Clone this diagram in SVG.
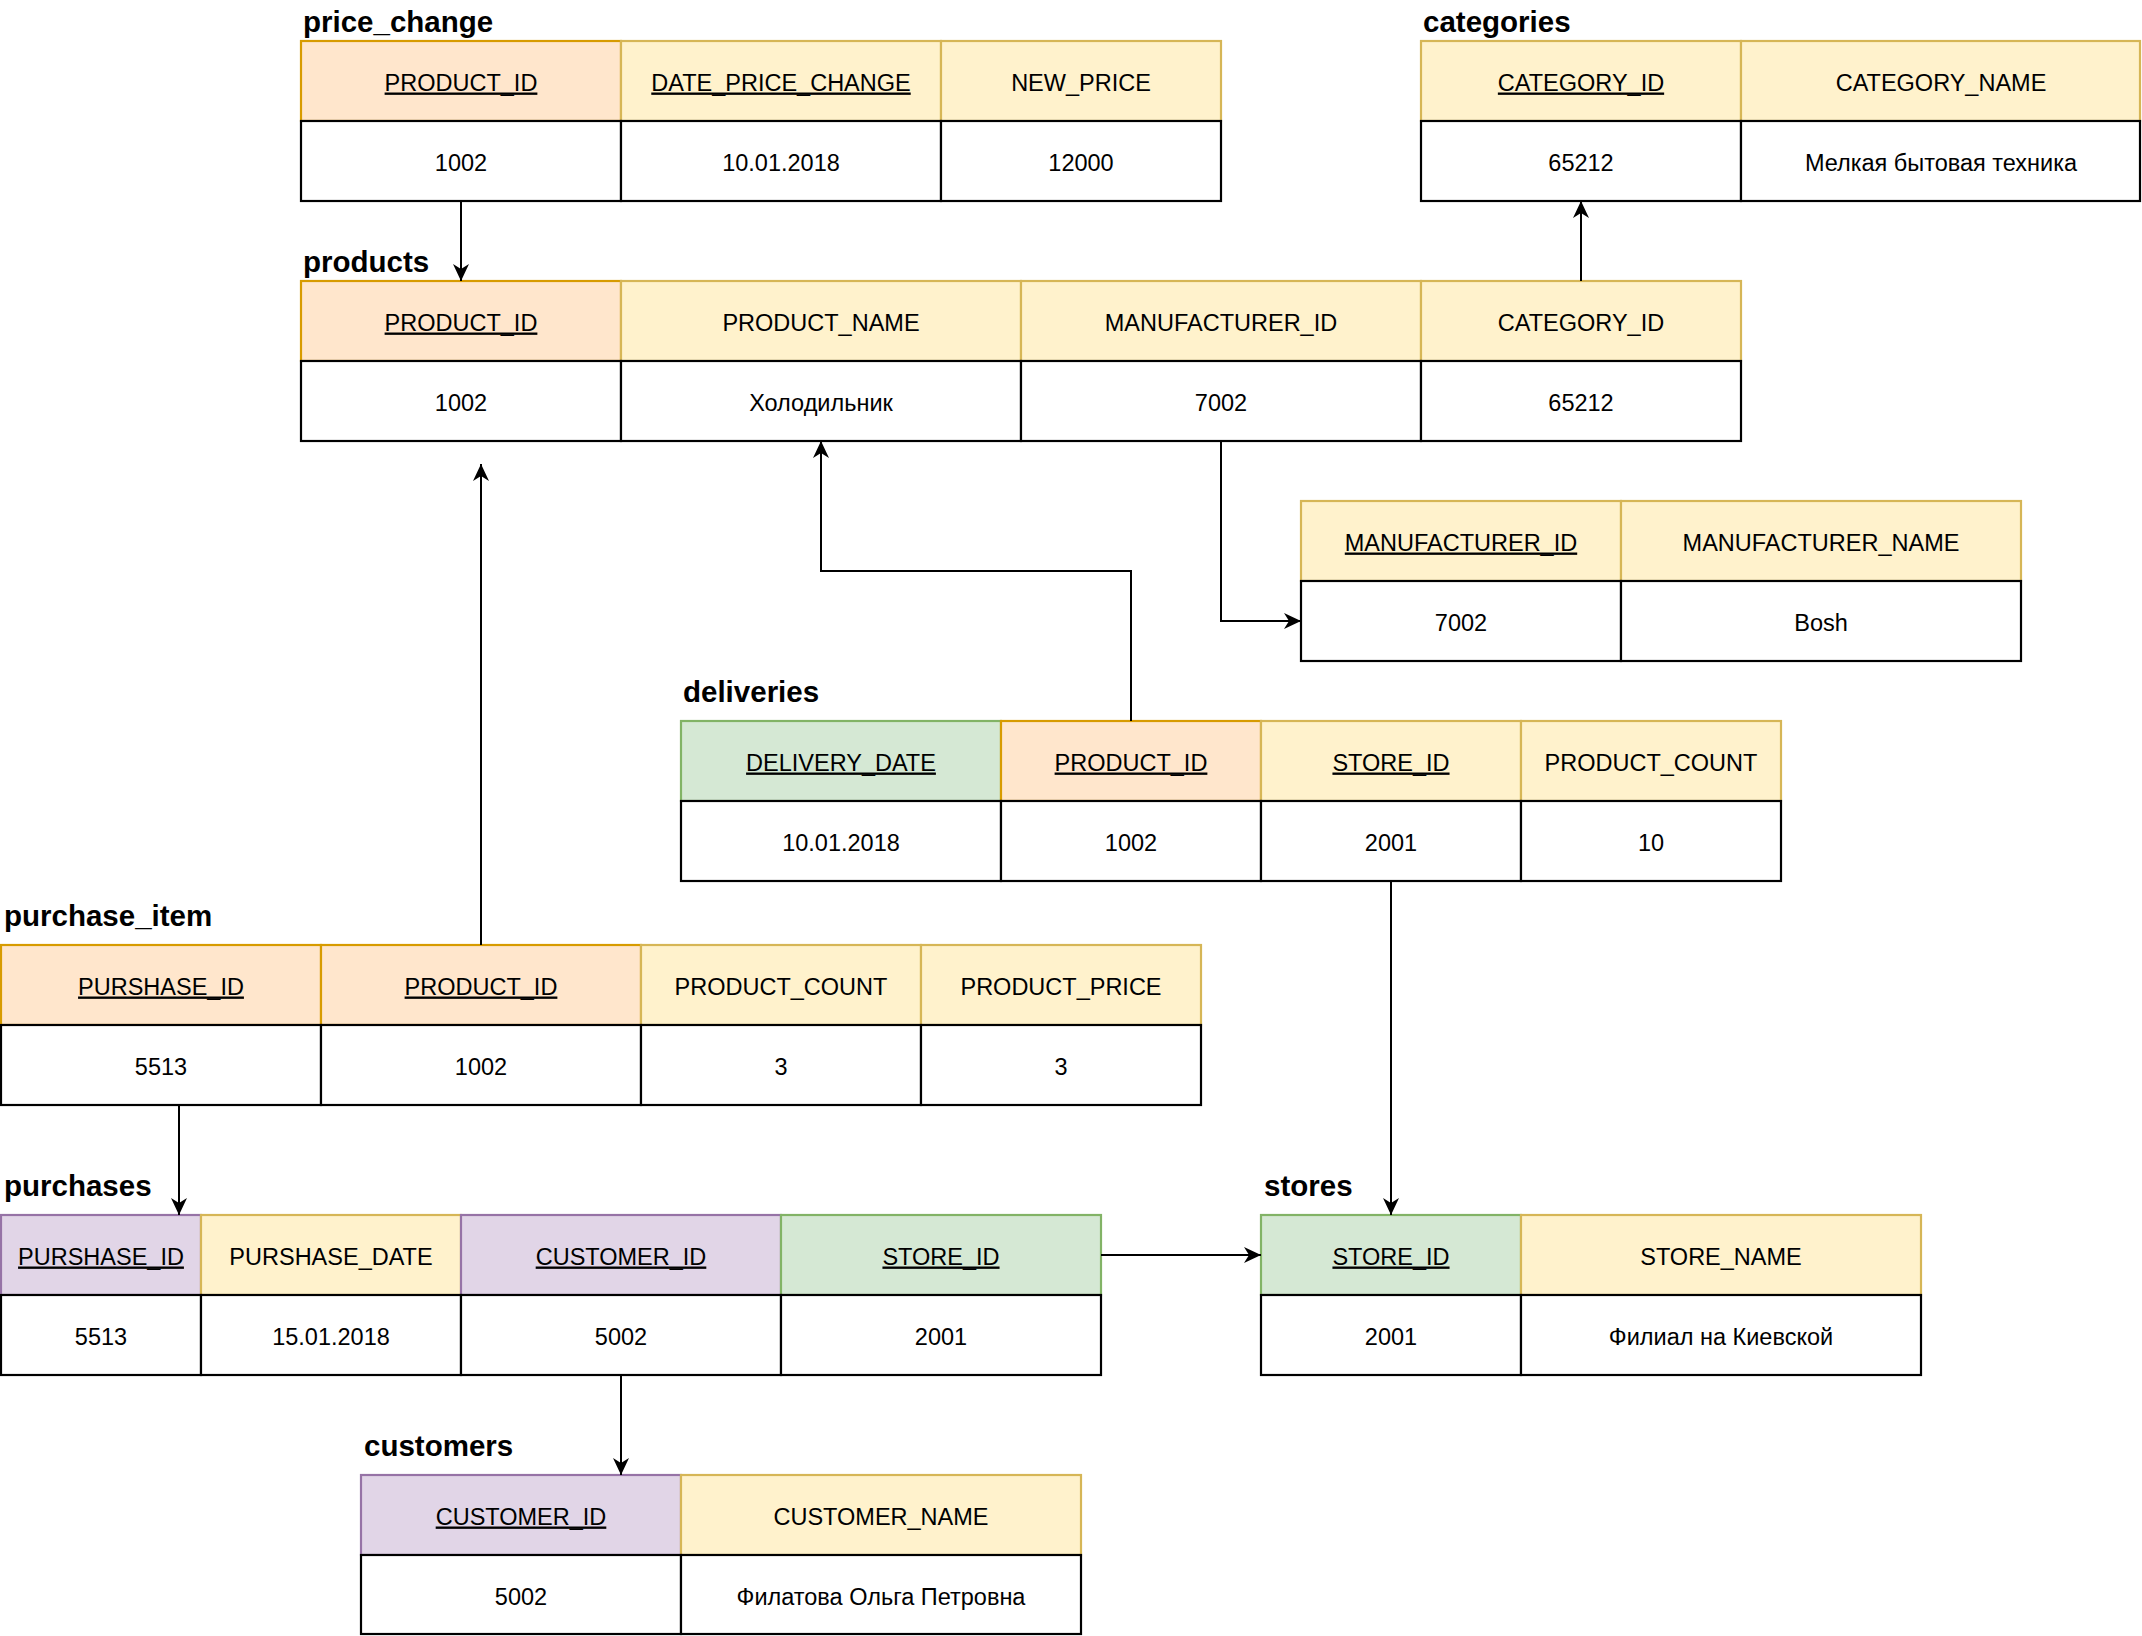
<svg xmlns="http://www.w3.org/2000/svg" width="2142" height="1636" viewBox="0 0 2142 1636">
<style>
.t{font-family:"Liberation Sans",Arial,Helvetica,sans-serif;font-size:23.5px;text-anchor:middle;fill:#000}
.u{text-decoration:underline}
.ti{font-family:"Liberation Sans",Arial,Helvetica,sans-serif;font-size:29.5px;font-weight:bold;fill:#000}
rect{stroke-width:2.2}
.o{fill:#ffe6cc;stroke:#d79b00}
.y{fill:#fff2cc;stroke:#d6b656}
.g{fill:#d5e8d4;stroke:#82b366}
.p{fill:#e1d5e7;stroke:#9673a6}
.d{fill:#fff;stroke:#000}
.c{fill:none;stroke:#000;stroke-width:2;marker-end:url(#arr)}
</style>
<defs>
<marker id="arr" markerUnits="userSpaceOnUse" markerWidth="18" markerHeight="16" viewBox="0 0 18 16" refX="17" refY="8" orient="auto"><path d="M0,0 L17,8 L0,16 L5,8 Z" fill="#000"/></marker>
</defs>
<rect width="2142" height="1636" fill="#fff" style="stroke:none"/>

<g id="price_change">
<text class="ti" x="303" y="32">price_change</text>
<rect class="o" x="301" y="41" width="320" height="80"/>
<rect class="y" x="621" y="41" width="320" height="80"/>
<rect class="y" x="941" y="41" width="280" height="80"/>
<rect class="d" x="301" y="121" width="320" height="80"/>
<rect class="d" x="621" y="121" width="320" height="80"/>
<rect class="d" x="941" y="121" width="280" height="80"/>
<text class="t u" x="461" y="90.5">PRODUCT_ID</text>
<text class="t u" x="781" y="90.5">DATE_PRICE_CHANGE</text>
<text class="t" x="1081" y="90.5">NEW_PRICE</text>
<text class="t" x="461" y="170.5">1002</text>
<text class="t" x="781" y="170.5">10.01.2018</text>
<text class="t" x="1081" y="170.5">12000</text>
</g>

<g id="categories">
<text class="ti" x="1423" y="32">categories</text>
<rect class="y" x="1421" y="41" width="320" height="80"/>
<rect class="y" x="1741" y="41" width="399" height="80"/>
<rect class="d" x="1421" y="121" width="320" height="80"/>
<rect class="d" x="1741" y="121" width="399" height="80"/>
<text class="t u" x="1581" y="90.5">CATEGORY_ID</text>
<text class="t" x="1941" y="90.5">CATEGORY_NAME</text>
<text class="t" x="1581" y="170.5">65212</text>
<text class="t" x="1941" y="170.5">Мелкая бытовая техника</text>
</g>

<g id="products">
<text class="ti" x="303" y="272">products</text>
<rect class="o" x="301" y="281" width="320" height="80"/>
<rect class="y" x="621" y="281" width="400" height="80"/>
<rect class="y" x="1021" y="281" width="400" height="80"/>
<rect class="y" x="1421" y="281" width="320" height="80"/>
<rect class="d" x="301" y="361" width="320" height="80"/>
<rect class="d" x="621" y="361" width="400" height="80"/>
<rect class="d" x="1021" y="361" width="400" height="80"/>
<rect class="d" x="1421" y="361" width="320" height="80"/>
<text class="t u" x="461" y="330.5">PRODUCT_ID</text>
<text class="t" x="821" y="330.5">PRODUCT_NAME</text>
<text class="t" x="1221" y="330.5">MANUFACTURER_ID</text>
<text class="t" x="1581" y="330.5">CATEGORY_ID</text>
<text class="t" x="461" y="410.5">1002</text>
<text class="t" x="821" y="410.5">Холодильник</text>
<text class="t" x="1221" y="410.5">7002</text>
<text class="t" x="1581" y="410.5">65212</text>
</g>

<g id="manufacturers">
<rect class="y" x="1301" y="501" width="320" height="80"/>
<rect class="y" x="1621" y="501" width="400" height="80"/>
<rect class="d" x="1301" y="581" width="320" height="80"/>
<rect class="d" x="1621" y="581" width="400" height="80"/>
<text class="t u" x="1461" y="550.5">MANUFACTURER_ID</text>
<text class="t" x="1821" y="550.5">MANUFACTURER_NAME</text>
<text class="t" x="1461" y="630.5">7002</text>
<text class="t" x="1821" y="630.5">Bosh</text>
</g>

<g id="deliveries">
<text class="ti" x="683" y="702">deliveries</text>
<rect class="g" x="681" y="721" width="320" height="80"/>
<rect class="o" x="1001" y="721" width="260" height="80"/>
<rect class="y" x="1261" y="721" width="260" height="80"/>
<rect class="y" x="1521" y="721" width="260" height="80"/>
<rect class="d" x="681" y="801" width="320" height="80"/>
<rect class="d" x="1001" y="801" width="260" height="80"/>
<rect class="d" x="1261" y="801" width="260" height="80"/>
<rect class="d" x="1521" y="801" width="260" height="80"/>
<text class="t u" x="841" y="770.5">DELIVERY_DATE</text>
<text class="t u" x="1131" y="770.5">PRODUCT_ID</text>
<text class="t u" x="1391" y="770.5">STORE_ID</text>
<text class="t" x="1651" y="770.5">PRODUCT_COUNT</text>
<text class="t" x="841" y="850.5">10.01.2018</text>
<text class="t" x="1131" y="850.5">1002</text>
<text class="t" x="1391" y="850.5">2001</text>
<text class="t" x="1651" y="850.5">10</text>
</g>

<g id="purchase_item">
<text class="ti" x="4" y="926">purchase_item</text>
<rect class="o" x="1" y="945" width="320" height="80"/>
<rect class="o" x="321" y="945" width="320" height="80"/>
<rect class="y" x="641" y="945" width="280" height="80"/>
<rect class="y" x="921" y="945" width="280" height="80"/>
<rect class="d" x="1" y="1025" width="320" height="80"/>
<rect class="d" x="321" y="1025" width="320" height="80"/>
<rect class="d" x="641" y="1025" width="280" height="80"/>
<rect class="d" x="921" y="1025" width="280" height="80"/>
<text class="t u" x="161" y="994.5">PURSHASE_ID</text>
<text class="t u" x="481" y="994.5">PRODUCT_ID</text>
<text class="t" x="781" y="994.5">PRODUCT_COUNT</text>
<text class="t" x="1061" y="994.5">PRODUCT_PRICE</text>
<text class="t" x="161" y="1074.5">5513</text>
<text class="t" x="481" y="1074.5">1002</text>
<text class="t" x="781" y="1074.5">3</text>
<text class="t" x="1061" y="1074.5">3</text>
</g>

<g id="purchases">
<text class="ti" x="4" y="1196">purchases</text>
<rect class="p" x="1" y="1215" width="200" height="80"/>
<rect class="y" x="201" y="1215" width="260" height="80"/>
<rect class="p" x="461" y="1215" width="320" height="80"/>
<rect class="g" x="781" y="1215" width="320" height="80"/>
<rect class="d" x="1" y="1295" width="200" height="80"/>
<rect class="d" x="201" y="1295" width="260" height="80"/>
<rect class="d" x="461" y="1295" width="320" height="80"/>
<rect class="d" x="781" y="1295" width="320" height="80"/>
<text class="t u" x="101" y="1264.5">PURSHASE_ID</text>
<text class="t" x="331" y="1264.5">PURSHASE_DATE</text>
<text class="t u" x="621" y="1264.5">CUSTOMER_ID</text>
<text class="t u" x="941" y="1264.5">STORE_ID</text>
<text class="t" x="101" y="1344.5">5513</text>
<text class="t" x="331" y="1344.5">15.01.2018</text>
<text class="t" x="621" y="1344.5">5002</text>
<text class="t" x="941" y="1344.5">2001</text>
</g>

<g id="stores">
<text class="ti" x="1264" y="1196">stores</text>
<rect class="g" x="1261" y="1215" width="260" height="80"/>
<rect class="y" x="1521" y="1215" width="400" height="80"/>
<rect class="d" x="1261" y="1295" width="260" height="80"/>
<rect class="d" x="1521" y="1295" width="400" height="80"/>
<text class="t u" x="1391" y="1264.5">STORE_ID</text>
<text class="t" x="1721" y="1264.5">STORE_NAME</text>
<text class="t" x="1391" y="1344.5">2001</text>
<text class="t" x="1721" y="1344.5">Филиал на Киевской</text>
</g>

<g id="customers">
<text class="ti" x="364" y="1456">customers</text>
<rect class="p" x="361" y="1475" width="320" height="80"/>
<rect class="y" x="681" y="1475" width="400" height="80"/>
<rect class="d" x="361" y="1555" width="320" height="79"/>
<rect class="d" x="681" y="1555" width="400" height="79"/>
<text class="t u" x="521" y="1524.5">CUSTOMER_ID</text>
<text class="t" x="881" y="1524.5">CUSTOMER_NAME</text>
<text class="t" x="521" y="1604.5">5002</text>
<text class="t" x="881" y="1604.5">Филатова Ольга Петровна</text>
</g>

<g id="connectors">
<path class="c" d="M461,201 V281"/>
<path class="c" d="M1581,281 V201"/>
<path class="c" d="M1221,441 V621 H1301"/>
<path class="c" d="M1131,721 V571 H821 V441"/>
<path class="c" d="M481,945 V464"/>
<path class="c" d="M1391,881 V1215"/>
<path class="c" d="M179,1105 V1215"/>
<path class="c" d="M1101,1255 H1261"/>
<path class="c" d="M621,1375 V1475"/>
</g>
</svg>
